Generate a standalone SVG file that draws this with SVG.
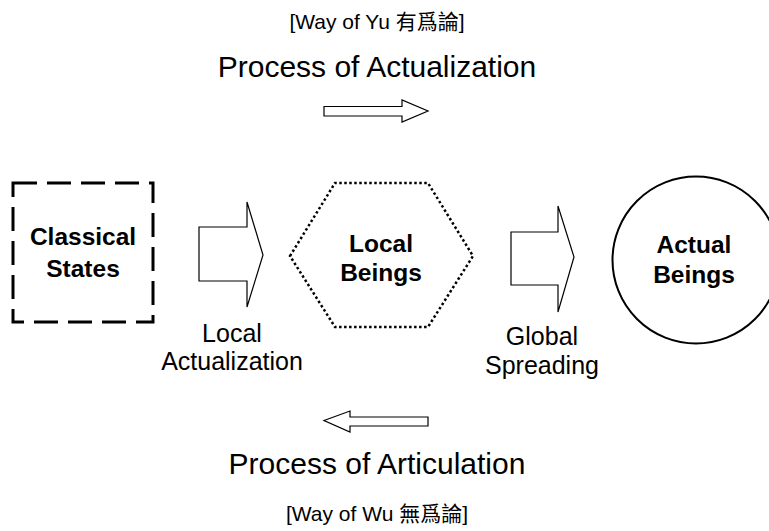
<svg xmlns="http://www.w3.org/2000/svg" width="769" height="531" viewBox="0 0 769 531">
<style>
text{font-family:"Liberation Sans","Noto Sans CJK TC",Arial,sans-serif;fill:#000;text-anchor:middle}
.node{font-weight:bold;font-size:24.5px}
.lbl{font-size:25px}
.title{font-size:30px}
.way{font-size:21px}
.fat{fill:#fff;stroke:#000;stroke-width:1.2;stroke-linejoin:miter}
</style>
<rect width="769" height="531" fill="#fff"/>
<g id="title-top">
<text class="way" x="377" y="29">[Way of Yu 有爲論]</text>
<text class="title" x="377" y="77">Process of Actualization</text>
</g>
<g id="title-bottom">
<text class="title" x="377" y="474">Process of Articulation</text>
<text class="way" x="377" y="521">[Way of Wu 無爲論]</text>
</g>
<g id="classical-states">
<rect x="13" y="183" width="140" height="139" fill="none" stroke="#000" stroke-width="3" stroke-dasharray="24 10"/>
<text class="node" x="83" y="245">Classical</text>
<text class="node" x="83" y="277">States</text>
</g>
<g id="local-beings">
<polygon points="290,256 335,183 428,183 473,256 428,327 335,327" fill="none" stroke="#000" stroke-width="2.5" stroke-dasharray="2.5 2.5"/>
<text class="node" x="381" y="252">Local</text>
<text class="node" x="381" y="281">Beings</text>
</g>
<g id="actual-beings">
<circle cx="696" cy="260" r="83.5" fill="none" stroke="#000" stroke-width="2"/>
<text class="node" x="694" y="253">Actual</text>
<text class="node" x="694" y="283">Beings</text>
</g>
<g id="connectors">
<polygon class="fat" points="199,227 247,227 247,202 263,255 247,307 247,281 199,281"/>
<polygon class="fat" points="511,232 558,232 558,206 574,257 558,312 558,285 511,285"/>
<polygon class="fat" points="324,106.5 402,106.5 402,100 428,111 402,122 402,116 324,116"/>
<polygon class="fat" points="428,417 350,417 350,411 324,420.5 350,432 350,426 428,426"/>
<text class="lbl" x="232" y="342">Local</text>
<text class="lbl" x="232" y="370">Actualization</text>
<text class="lbl" x="542" y="345">Global</text>
<text class="lbl" x="542" y="374">Spreading</text>
</g>
</svg>
